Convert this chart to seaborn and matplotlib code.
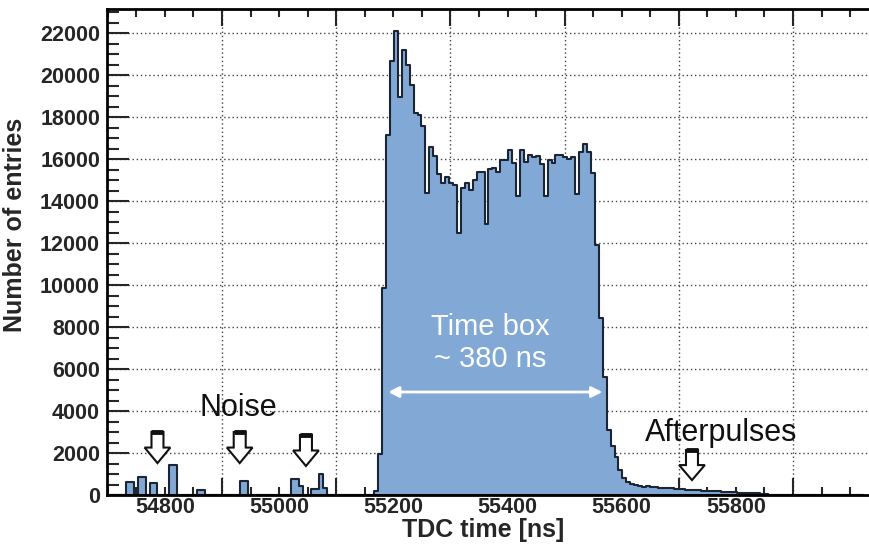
import numpy as np
import pandas as pd
import matplotlib
matplotlib.use("Agg")
import matplotlib.pyplot as plt
from matplotlib.ticker import FixedLocator, MultipleLocator, FuncFormatter, NullFormatter
from matplotlib.patches import FancyArrow
import seaborn as sns

# ─── Data ───────────────────────────────────────────────────────────────────
BIN_WIDTH = 6.9          # ns
MAIN_START = 55166.5     # left edge of the first bin of the main peak

# isolated noise hits before the gate
noise_time = [54735, 54742, 54756, 54763, 54777, 54783, 54811, 54818, 54860, 54866,
              54935, 54942, 55025, 55032, 55039, 55060, 55066, 55073, 55080]
noise_counts = [620, 620, 870, 870, 555, 555, 1430, 1430, 240, 240,
                680, 680, 760, 760, 430, 270, 270, 1000, 320]

# main peak: rising edge, time box plateau, falling edge + afterpulse tail
rise_counts = [200, 1950, 9860]
plateau_counts = [17140, 20670, 22110, 18970, 21220, 20480, 19520, 18190, 18100, 17570,
                  14400, 16590, 16140, 15290, 14840, 15160, 14840, 14750, 12460, 14600,
                  14840, 14530, 15000, 15370, 15370, 12900, 15510, 15560, 15370, 15950,
                  15950, 16430, 15820, 14250, 16410, 15870, 16190, 16110, 16140, 15760,
                  14250, 15940, 15810, 16190, 16190, 16110, 15990, 16100, 14330, 16320,
                  16700, 16320, 15320]
tail_counts = [11900, 8410, 5630, 3100, 2330, 1830, 1200, 800, 620, 520,
               470, 420, 400, 430, 390, 360, 340, 330, 320, 320,
               300, 290, 280, 260, 250, 240, 230, 210, 200, 190,
               190, 180, 160, 150, 130, 120, 110, 100, 90, 90,
               80, 80, 70, 60]

noise_arrow_x = [54787, 54931, 55047]
noise_arrow_top = [3000, 3000, 2860]
noise_arrow_tip = [1520, 1520, 1380]
after_arrow_x = 55723

x_tick_labels = [54800, 55000, 55200, 55400, 55600, 55800]

# ─── Style ──────────────────────────────────────────────────────────────────
sns.set_theme(style="white")
plt.rcParams["font.family"] = ["Liberation Sans", "DejaVu Sans"]

FILL = "#82a9d6"
EDGE = "#1b2533"

main_counts = rise_counts + plateau_counts + tail_counts
main_time = [MAIN_START + BIN_WIDTH * (i + 0.5) for i in range(len(main_counts))]
df = pd.DataFrame({"time": noise_time + main_time,
                   "count": noise_counts + main_counts})
edges = list(MAIN_START + BIN_WIDTH * np.arange(-67, 125))

fig = plt.figure(figsize=(8.69, 5.45), dpi=100)
ax = fig.add_axes([107 / 869, 50 / 545, 762 / 869, 486 / 545])

sns.histplot(data=df, x="time", weights="count", bins=edges, element="step",
             fill=True, facecolor=FILL, edgecolor=EDGE, linewidth=1.5, alpha=1, ax=ax)

ax.set_xlim(54698.6, 56033)
ax.set_ylim(0, 23150)

# ROOT-like axes: inward ticks, grid on long ticks, labels between
ax.xaxis.set_major_locator(FixedLocator(np.arange(54900, 56200, 200)))
ax.xaxis.set_major_formatter(NullFormatter())
ax.xaxis.set_minor_locator(MultipleLocator(50))
ax.xaxis.set_minor_formatter(FuncFormatter(
    lambda v, p: f"{v:.0f}" if int(round(v)) in x_tick_labels else ""))
ax.yaxis.set_major_locator(MultipleLocator(2000))
ax.yaxis.set_minor_locator(MultipleLocator(500))

ax.tick_params(axis="x", which="major", direction="in", length=12, width=1.5,
               top=True, bottom=True, labelbottom=False)
ax.tick_params(axis="x", which="minor", direction="in", length=6, width=1.5,
               top=True, bottom=True, labelsize=15.5, pad=1.5)
ax.tick_params(axis="y", which="major", direction="in", length=16, width=1.5,
               left=True, labelsize=15.5, pad=5)
ax.tick_params(axis="y", which="minor", direction="in", length=8.5, width=1.5, left=True)
for lab in ax.get_xticklabels(minor=True) + ax.get_yticklabels():
    lab.set_fontweight("bold")

ax.set_axisbelow(True)
ax.grid(True, which="major", color="#444444", linestyle=(0, (1, 2)), linewidth=1)

for side in ["left", "bottom", "top"]:
    ax.spines[side].set_color("black")
    ax.spines[side].set_linewidth(2)
ax.spines["right"].set_visible(False)

ax.set_xlabel("TDC time [ns]", fontsize=18, fontweight="bold")
ax.xaxis.set_label_coords(0.493, -0.047)
ax.set_ylabel("Number of entries", fontsize=18, fontweight="bold")
ax.yaxis.set_label_coords(-0.105, 0.555)

# ─── Annotations ────────────────────────────────────────────────────────────
ax.annotate("", xy=(55571, 4905), xytext=(55186, 4905),
            arrowprops=dict(arrowstyle="<|-|>", color="white", lw=2, mutation_scale=16))
ax.text(55370, 7240, "Time box\n~ 380 ns", color="white", fontsize=21,
        ha="center", va="center", linespacing=1.15)
ax.text(54928, 4140, "Noise", fontsize=22, ha="center", va="center", color="#111111")
ax.text(55774, 2950, "Afterpulses", fontsize=22, ha="center", va="center", color="#111111")


def hollow_arrow(x, top, tip):
    head = (top - tip) * 0.5
    arr = FancyArrow(x, top, 0, -(top - tip), width=21, head_width=45,
                     head_length=head, length_includes_head=True,
                     facecolor="white", edgecolor="#111111", linewidth=1.5, zorder=5)
    ax.add_patch(arr)
    ax.plot([x - 10.5, x + 10.5], [top, top], color="#111111", lw=3.5, zorder=6,
            solid_capstyle="butt")


for x, t, b in zip(noise_arrow_x, noise_arrow_top, noise_arrow_tip):
    hollow_arrow(x, t, b)
hollow_arrow(after_arrow_x, 2140, 710)

fig.savefig("out.png", dpi=100)
